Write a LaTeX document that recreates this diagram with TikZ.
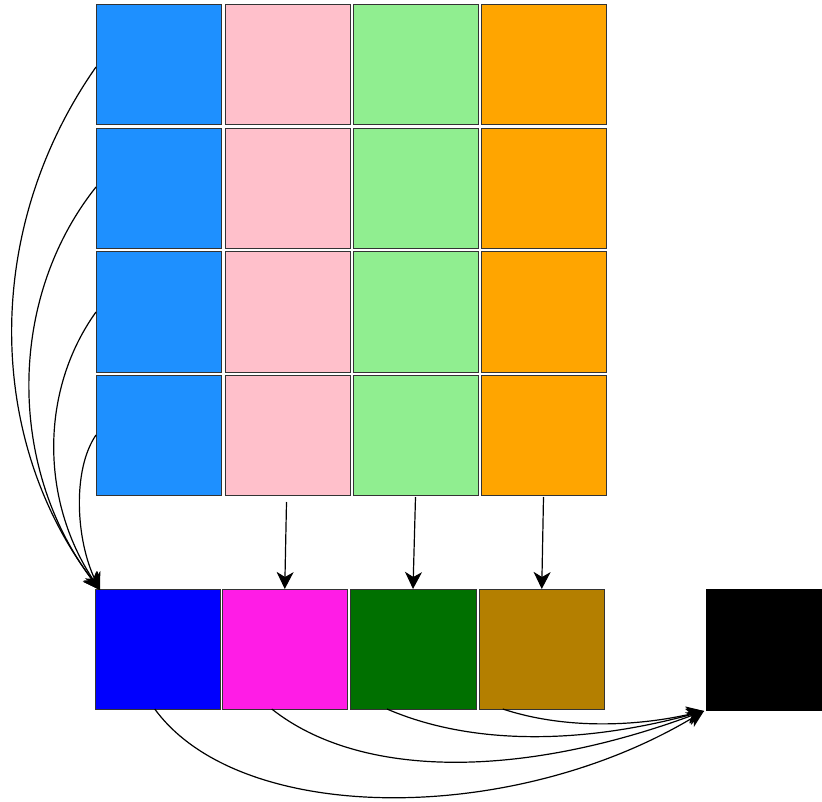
\documentclass[tikz,border=0pt]{standalone}
\usetikzlibrary{arrows.meta}
\definecolor{cblue}{HTML}{1E90FF}
\definecolor{cpink}{HTML}{FFC0CB}
\definecolor{cgreen}{HTML}{90EE90}
\definecolor{corange}{HTML}{FFA500}
\definecolor{dblue}{HTML}{0000FF}
\definecolor{dmag}{HTML}{FF1CE6}
\definecolor{dgreen}{HTML}{007000}
\definecolor{dbrown}{HTML}{B47F00}
\definecolor{edge}{HTML}{333333}
\tikzset{
  cell/.style={draw=edge, line width=1pt, minimum width=125pt, minimum height=120pt, anchor=north west, inner sep=0pt, outer sep=0pt},
  conn/.style={draw=black, line width=1.2pt, -{Stealth[length=17pt, width=17pt, inset=5pt]}},
}
\begin{document}
\begin{tikzpicture}[x=1pt, y=-1pt]
\useasboundingbox (0,0) rectangle (822,802);
\clip (0,0) rectangle (822,802);
% grid
\foreach \c/\x/\col in {1/96/cblue, 2/225/cpink, 3/353/cgreen, 4/481/corange}{
  \foreach \r/\y in {1/5, 2/129, 3/252, 4/375}{
    \node[cell, fill=\col] (r\r c\c) at (\x,\y) {};
  }
}
% bottom row
\node[cell, fill=dblue, minimum width=125.5pt] (b1) at (95,589) {};
\node[cell, fill=dmag, minimum width=125.5pt] (b2) at (222,589) {};
\node[cell, fill=dgreen, minimum width=126pt] (b3) at (350,589) {};
\node[cell, fill=dbrown, minimum width=125.5pt] (b4) at (479,589) {};
\node[cell, fill=black, draw=black, minimum width=140pt, minimum height=121pt] (blk) at (706,589) {};
% vertical arrows
\draw[conn] ([xshift=-1pt,yshift=-7pt]r4c2.south) -- (b2.north);
\draw[conn] ([yshift=-2pt]r4c3.south) -- (b3.north);
\draw[conn] ([yshift=-2pt]r4c4.south) -- (b4.north);
% left curves
\coordinate (tgt) at ([xshift=5pt,yshift=-1pt]b1.north west);
\draw[conn] ([yshift=-2pt]r1c1.west) .. controls (-18,230) and (-14,440) .. (tgt);
\draw[conn] ([yshift=2pt]r2c1.west) .. controls (6,300) and (8,470) .. (tgt);
\draw[conn] (r3c1.west) .. controls (40,390) and (40,500) .. (tgt);
\draw[conn] (r4c1.west) .. controls (72,470) and (76,540) .. (tgt);
% bottom curves
\coordinate (tgt2) at ([xshift=-2pt,yshift=-1pt]blk.south west);
\draw[conn] ([xshift=-3pt]b1.south) .. controls (240,826) and (513,826) .. (tgt2);
\draw[conn] ([xshift=-13pt]b2.south) .. controls (360,779) and (520,779) .. (tgt2);
\draw[conn] ([xshift=-26pt]b3.south) .. controls (470,745) and (580,745) .. (tgt2);
\draw[conn] ([xshift=-39pt]b4.south) .. controls (560,728) and (630,728) .. (tgt2);
\end{tikzpicture}
\end{document}
